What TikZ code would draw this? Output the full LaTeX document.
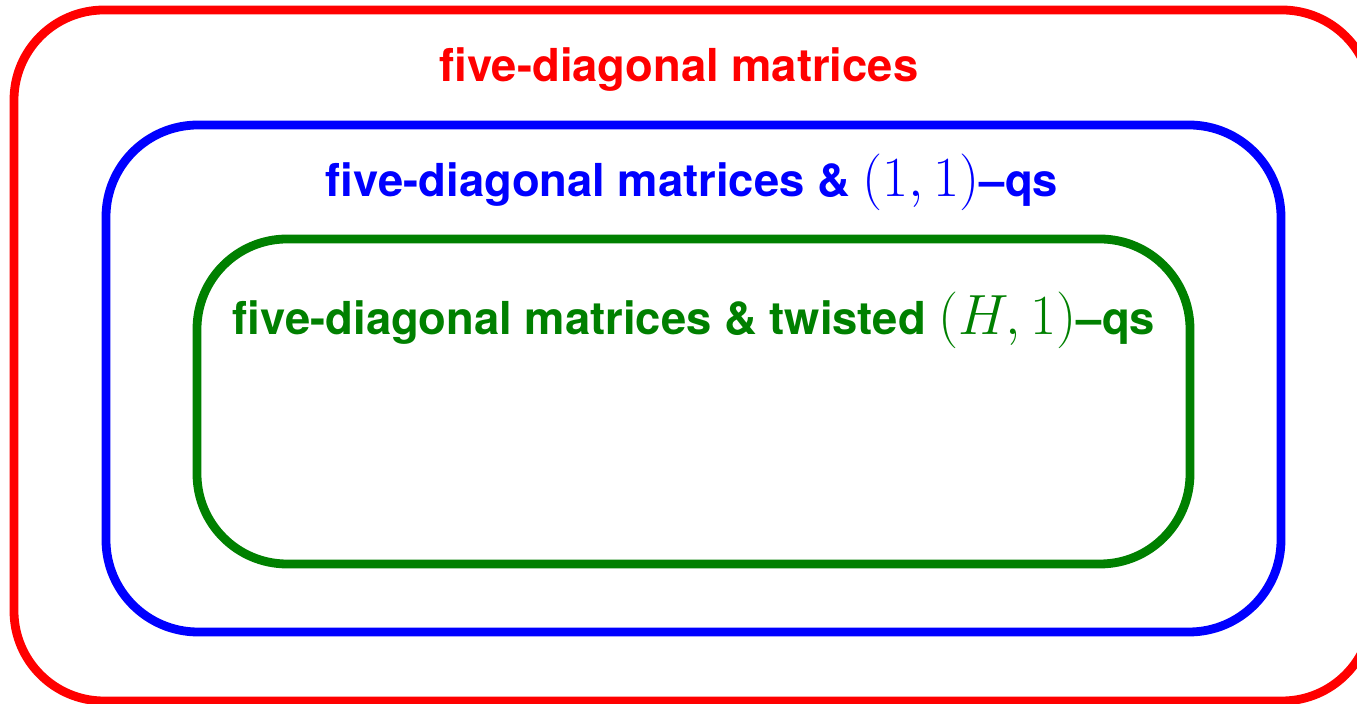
\documentclass[tikz,border=0pt]{standalone}
\usepackage{fontspec}
\setsansfont{TeX Gyre Heros}
\definecolor{rred}{RGB}{255,0,0}
\definecolor{bblue}{RGB}{0,0,255}
\definecolor{ggreen}{RGB}{0,128,0}
\newcommand{\bigmath}[1]{\scalebox{1.14}{\fontsize{22.9}{28}\selectfont$#1$}}
\begin{document}
\begin{tikzpicture}[x=0.5pt,y=-0.5pt,
  frame/.style={line width=4.4pt},
  lbl/.style={anchor=base,inner sep=0pt,font=\fontsize{22.7}{28}\selectfont\sffamily\bfseries}]
\useasboundingbox (0,0) rectangle (1357,704);
\begin{scope}
\clip (0,0) rectangle (1357,704);
\draw[frame,rred,rounded corners=45pt] (14,10) rectangle (1372,701);
\end{scope}
\draw[frame,bblue,rounded corners=46pt] (106,125) rectangle (1281,632);
\draw[frame,ggreen,rounded corners=45pt] (197,239) rectangle (1190,564);
\node[lbl,text=rred] (t1) at (679,82) {five-diagonal matrices};
\node[lbl,text=bblue] (t2) at (692,197) {five-diagonal matrices \& \bigmath{(1,1)}--qs};
\node[lbl,text=ggreen] (t3) at (694,335) {five-diagonal matrices \& twisted \bigmath{(H,1)}--qs};
\end{tikzpicture}
\end{document}
